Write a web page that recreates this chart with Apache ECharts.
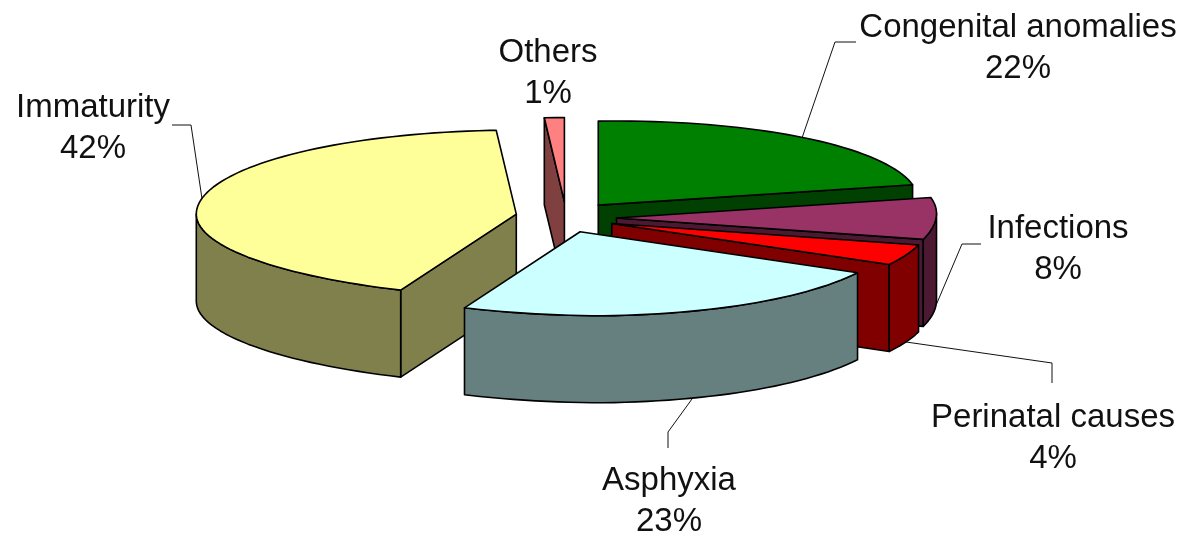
<!DOCTYPE html>
<html>
<head>
<meta charset="utf-8">
<style>html,body{margin:0;padding:0;background:#fff}#c{width:1186px;height:538px}</style>
<script src="https://cdn.jsdelivr.net/npm/echarts@6/dist/echarts.min.js"></script>
</head>
<body>
<div id="c"></div>
<script>
// Data (clockwise from 12 o'clock)
const categories = ['Congenital anomalies', 'Infections', 'Perinatal causes', 'Asphyxia', 'Immaturity', 'Others'];
const shares = [22, 8, 4, 23, 42, 1];

// Styles
const topColors = ['#008000', '#993366', '#FF0000', '#CCFFFF', '#FFFF99', '#FF8080'];
const sideColors = ['#004000', '#4C1933', '#800000', '#668080', '#80804C', '#804040'];

// Layout
const centre = [566, 217], rx = 320, ry = 84, depth = 87;
const explodeX = 50.6, explodeY = 15.4, lean = 0.3, roll = 0.015;
const labelCentres = [[1018, 48], [1058, 249], [1053, 438], [669, 501], [93, 128], [548, 73]];
const leaderElbows = [
  [[835, 42], [856, 42]],
  [[962, 244], [981, 244]],
  [[1052, 363], [1052, 383]],
  [[668, 432], [668, 448]],
  [[191, 125], [172, 125]],
  null
];

const total = shares.reduce((a, b) => a + b, 0);
const RAD = Math.PI / 180;
const bounds = [];
shares.reduce((acc, v) => { bounds.push([acc / total * 360, (acc + v) / total * 360]); return acc + v; }, 0);

function apexOf(i) {
  const mid = (bounds[i][0] + bounds[i][1]) / 2 * RAD;
  return [centre[0] + explodeX * Math.sin(mid), centre[1] - explodeY * Math.cos(mid)];
}
// Rim point on the tilted ellipse, with the slight skew of the 3D view
function rim(i, deg) {
  const a = apexOf(i), t = deg * RAD;
  const dy = -ry * Math.cos(t), dx = rx * Math.sin(t);
  const front = Math.max(0, dy);
  return [a[0] + dx + lean * front * front / ry, a[1] + dy - roll * Math.max(0, dx)];
}
const down = (p) => [p[0], p[1] + depth];

// Paint far slices first
const order = categories.map((_, i) => i).sort((a, b) => apexOf(a)[1] - apexOf(b)[1]);

function poly(points, fill, z2) {
  return {
    type: 'polygon', z2: z2,
    shape: { points: points },
    style: { fill: fill, stroke: '#000', lineWidth: 1.6, lineJoin: 'round' }
  };
}

function renderItem(params, api) {
  const i = api.value(0);
  const rank = order.indexOf(i) * 10 + 1;
  const [s, e] = bounds[i];
  const apex = apexOf(i);
  const children = [];

  // Cut faces that look towards the viewer
  if (Math.sin(s * RAD) < -1e-6) {
    const p = rim(i, s);
    children.push(poly([apex, p, down(p), down(apex)], sideColors[i], rank));
  }
  if (Math.sin(e * RAD) > 1e-6) {
    const p = rim(i, e);
    children.push(poly([apex, p, down(p), down(apex)], sideColors[i], rank));
  }

  // Outer wall (front half of the rim only)
  const ws = Math.max(s, 90), we = Math.min(e, 270);
  if (we > ws) {
    const upper = [];
    for (let d = ws; d < we; d += 2) upper.push(rim(i, d));
    upper.push(rim(i, we));
    const lower = upper.map(down).reverse();
    children.push(poly(upper.concat(lower), sideColors[i], rank + 1));
  }

  // Top face
  const top = [apex];
  for (let d = s; d < e; d += 2) top.push(rim(i, d));
  top.push(rim(i, e));
  children.push(poly(top, topColors[i], rank + 2));

  // Leader line from the middle of the slice's rim
  if (leaderElbows[i]) {
    const midDeg = (s + e) / 2;
    let from = rim(i, midDeg);
    if (Math.cos(midDeg * RAD) < 0) from = down(from);
    children.push({
      type: 'polyline', z2: 200,
      shape: { points: [from].concat(leaderElbows[i]) },
      style: { fill: null, stroke: '#111', lineWidth: 1 }
    });
  }

  // Label
  children.push({
    type: 'text', z2: 300,
    style: {
      x: labelCentres[i][0], y: labelCentres[i][1],
      text: categories[i] + '\n' + shares[i] + '%',
      align: 'center', verticalAlign: 'middle',
      fontFamily: '"Liberation Sans", Arial, sans-serif',
      fontSize: 33, lineHeight: 41, fill: '#111'
    }
  });
  return { type: 'group', children: children };
}

const chart = echarts.init(document.getElementById('c'), null, { renderer: 'canvas' });
chart.setOption({
  animation: false,
  backgroundColor: '#fff',
  series: [{
    type: 'custom',
    coordinateSystem: 'none',
    silent: true,
    renderItem: renderItem,
    data: shares.map((v, i) => [i, v])
  }]
});
</script>
</body>
</html>
